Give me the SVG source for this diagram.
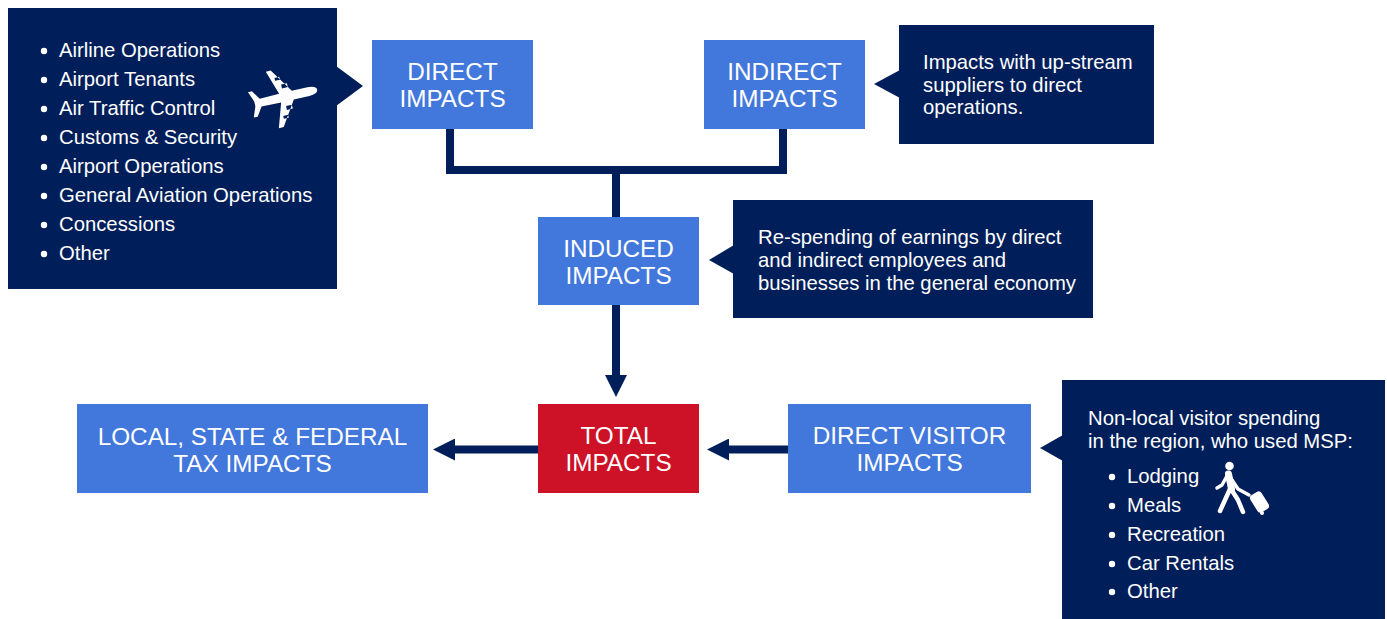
<svg xmlns="http://www.w3.org/2000/svg" width="1387" height="619" viewBox="0 0 1387 619">
<style>
.box{fill:#4277dc}
.red{fill:#cd1126}
.navy{fill:#001e5a}
.title{font-family:"Liberation Sans",Arial,sans-serif;font-size:24.3px;fill:#ffffff;text-anchor:middle}
.txt{font-family:"Liberation Sans",Arial,sans-serif;font-size:20.3px;fill:#ffffff}
.bul{fill:#ffffff}
.conn{fill:none;stroke:#001e5a;stroke-width:8}
.icon{fill:none;stroke:#ffffff;stroke-linecap:round;stroke-linejoin:round}
</style>
<defs>
<marker id="ah" markerUnits="userSpaceOnUse" markerWidth="22" markerHeight="22" viewBox="0 0 22 22" refX="0" refY="11" orient="auto">
<path d="M0,0 L22,11 L0,22 Z" fill="#001e5a"/>
</marker>
</defs>
<rect width="1387" height="619" fill="#ffffff"/>

<g id="connectors">
<path class="conn" d="M450,129 V170 H783 V129"/>
<path class="conn" d="M616,170 V217"/>
<line class="conn" stroke-width="7" x1="616" y1="305" x2="616" y2="375" marker-end="url(#ah)"/>
<line class="conn" stroke-width="7" x1="538" y1="449.5" x2="455" y2="449.5" marker-end="url(#ah)"/>
<line class="conn" stroke-width="7" x1="788" y1="449.5" x2="729" y2="449.5" marker-end="url(#ah)"/>
</g>

<g id="ops-callout">
<rect class="navy" x="8" y="8" width="329" height="281"/>
<polygon class="navy" points="336,66 363,86 336,106"/>
<g class="bul">
<circle cx="44" cy="51" r="3.2"/><circle cx="44" cy="80" r="3.2"/><circle cx="44" cy="109" r="3.2"/><circle cx="44" cy="138" r="3.2"/>
<circle cx="44" cy="167" r="3.2"/><circle cx="44" cy="196" r="3.2"/><circle cx="44" cy="225" r="3.2"/><circle cx="44" cy="254" r="3.2"/>
</g>
<text class="txt" x="59" y="57">Airline Operations</text>
<text class="txt" x="59" y="86">Airport Tenants</text>
<text class="txt" x="59" y="115">Air Traffic Control</text>
<text class="txt" x="59" y="144">Customs &amp; Security</text>
<text class="txt" x="59" y="173">Airport Operations</text>
<text class="txt" x="59" y="202">General Aviation Operations</text>
<text class="txt" x="59" y="231">Concessions</text>
<text class="txt" x="59" y="260">Other</text>
<path fill="#ffffff" transform="translate(285,97) rotate(-13)" d="M33,0 Q33,-4 24,-4.5 L8,-4.5 L-8,-29 L-13,-29 L-5,-4.5 L-25,-4 L-31,-13 L-35,-13 L-31,-2.5 L-31,2.5 L-35,13 L-31,13 L-25,4 L-5,4.5 L-13,29 L-8,29 L8,4.5 L24,4.5 Q33,4 33,0 Z M-1,-13 h6 v4 h-6 Z M-6,-21 h5 v3 h-5 Z M-1,9 h6 v4 h-6 Z M-6,18 h5 v3 h-5 Z"/>
</g>

<g id="direct">
<rect class="box" x="372" y="40" width="161" height="89"/>
<text class="title" x="452.5" y="80">DIRECT</text>
<text class="title" x="452.5" y="107">IMPACTS</text>
</g>

<g id="indirect">
<rect class="box" x="704" y="40" width="161" height="89"/>
<text class="title" x="784.5" y="80">INDIRECT</text>
<text class="title" x="784.5" y="107">IMPACTS</text>
</g>

<g id="indirect-callout">
<rect class="navy" x="899" y="25" width="255" height="119"/>
<polygon class="navy" points="900,70 874,84 900,98"/>
<text class="txt" x="923" y="69">Impacts with up-stream</text>
<text class="txt" x="923" y="92">suppliers to direct</text>
<text class="txt" x="923" y="114">operations.</text>
</g>

<g id="induced">
<rect class="box" x="538" y="217" width="161" height="88"/>
<text class="title" x="618.5" y="257">INDUCED</text>
<text class="title" x="618.5" y="284">IMPACTS</text>
</g>

<g id="induced-callout">
<rect class="navy" x="733" y="200" width="360" height="118"/>
<polygon class="navy" points="734,245 709,260 734,274"/>
<text class="txt" x="758" y="244">Re-spending of earnings by direct</text>
<text class="txt" x="758" y="267">and indirect employees and</text>
<text class="txt" x="758" y="290">businesses in the general economy</text>
</g>

<g id="total">
<rect class="red" x="538" y="404" width="161" height="89"/>
<text class="title" x="618.5" y="444">TOTAL</text>
<text class="title" x="618.5" y="471">IMPACTS</text>
</g>

<g id="tax">
<rect class="box" x="77" y="404" width="351" height="89"/>
<text class="title" x="252.5" y="445">LOCAL, STATE &amp; FEDERAL</text>
<text class="title" x="252.5" y="472">TAX IMPACTS</text>
</g>

<g id="visitor">
<rect class="box" x="788" y="404" width="243" height="89"/>
<text class="title" x="909.5" y="444">DIRECT VISITOR</text>
<text class="title" x="909.5" y="471">IMPACTS</text>
</g>

<g id="visitor-callout">
<rect class="navy" x="1062" y="380" width="323" height="239"/>
<polygon class="navy" points="1063,435 1040,448 1063,461"/>
<text class="txt" x="1088" y="425">Non-local visitor spending</text>
<text class="txt" x="1088" y="448">in the region, who used MSP:</text>
<g class="bul">
<circle cx="1112" cy="477" r="3.2"/><circle cx="1112" cy="506" r="3.2"/><circle cx="1112" cy="535" r="3.2"/><circle cx="1112" cy="564" r="3.2"/><circle cx="1112" cy="592" r="3.2"/>
</g>
<text class="txt" x="1127" y="483">Lodging</text>
<text class="txt" x="1127" y="512">Meals</text>
<text class="txt" x="1127" y="541">Recreation</text>
<text class="txt" x="1127" y="570">Car Rentals</text>
<text class="txt" x="1127" y="598">Other</text>
<circle cx="1229.5" cy="466" r="4.3" fill="#ffffff"/>
<path class="icon" stroke-width="7" d="M1228.5,474 L1231.5,489"/>
<path class="icon" stroke-width="4.5" d="M1230,489 L1225,500 L1220,511 M1231,489 L1238,500 L1243,512"/>
<path class="icon" stroke-width="3.5" d="M1227,476 L1222,485 L1217,488 M1230,477 L1238,489 L1249,495"/>
<rect x="1253" y="492" width="13" height="20" rx="3.5" fill="#ffffff" transform="rotate(-32 1259.5 502)"/>
<circle cx="1262" cy="513" r="2" fill="#ffffff"/>
</g>
</svg>
